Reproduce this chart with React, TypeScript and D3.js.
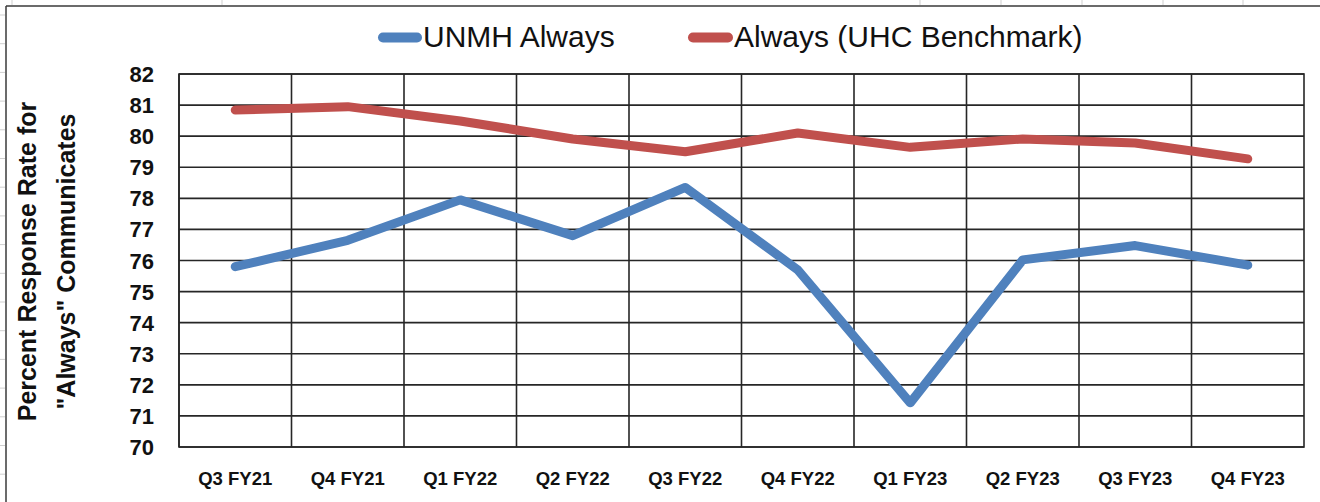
import React from 'react';
import * as d3 from 'd3';

const categories = ['Q3 FY21', 'Q4 FY21', 'Q1 FY22', 'Q2 FY22', 'Q3 FY22', 'Q4 FY22', 'Q1 FY23', 'Q2 FY23', 'Q3 FY23', 'Q4 FY23'];
const unmhAlways = [75.8, 76.65, 77.95, 76.8, 78.35, 75.7, 71.42, 76.02, 76.48, 75.85];
const benchmark = [80.84, 80.95, 80.49, 79.91, 79.5, 80.1, 79.64, 79.91, 79.78, 79.27];
const yTicks = [70, 71, 72, 73, 74, 75, 76, 77, 78, 79, 80, 81, 82];
const seriesNames = ['UNMH Always', 'Always (UHC Benchmark)'];
const seriesColors = ['#4F81BD', '#C0504D'];
const yTitleLines = ['Percent Response Rate for', '"Always" Communicates'];

const W = 1320;
const H = 502;
const plot = { left: 179, right: 1304, top: 74, bottom: 447 };
const FONT = '"Liberation Sans", Arial, sans-serif';

export default function App() {
  const x = d3.scaleBand<string>().domain(categories).range([plot.left, plot.right]).padding(0);
  const y = d3.scaleLinear().domain([70, 82]).range([plot.bottom, plot.top]);
  const cx = (c: string) => (x(c) as number) + x.bandwidth() / 2;

  const line = d3
    .line<number>()
    .x((_, i) => cx(categories[i]))
    .y((d) => y(d));

  const series = [unmhAlways, benchmark];

  // spreadsheet row guides (decorative)
  const rowGuides = d3.range(15, H, 28.7);
  const colGuides = [12, 222, 920, 1001, 1082, 1163, 1243];

  const legendItems = [
    { x0: 383, x1: 417, tx: 423 },
    { x0: 693, x1: 728, tx: 734 },
  ];

  return (
    <svg width={W} height={H} style={{ position: 'absolute', left: 0, top: 0, background: '#fff' }}>
      <rect x={0} y={0} width={W} height={H} fill="#fff" />
      {rowGuides.map((ry, i) => (
        <line key={'rg' + i} x1={0} x2={5} y1={ry} y2={ry} stroke="#cfcfcf" strokeWidth={1} />
      ))}
      {colGuides.map((gx, i) => (
        <line key={'cg' + i} x1={gx} x2={gx} y1={0} y2={5} stroke="#cfcfcf" strokeWidth={1} />
      ))}
      {/* chart frame */}
      <line x1={6} x2={W} y1={6} y2={6} stroke="#3a3a3a" strokeWidth={1.5} />
      <line x1={6} x2={6} y1={6} y2={H} stroke="#3a3a3a" strokeWidth={1.5} />

      {/* legend */}
      {legendItems.map((it, i) => (
        <g key={'lg' + i}>
          <line x1={it.x0} x2={it.x1} y1={37.5} y2={37.5} stroke={seriesColors[i]} strokeWidth={10} strokeLinecap="round" />
          <text x={it.tx} y={46.5} fontFamily={FONT} fontSize={30} fill="#111">
            {seriesNames[i]}
          </text>
        </g>
      ))}

      {/* horizontal gridlines */}
      {yTicks.map((t) => (
        <line key={'h' + t} x1={plot.left} x2={plot.right} y1={y(t)} y2={y(t)} stroke="#262626" strokeWidth={1.6} />
      ))}
      {/* vertical gridlines at category boundaries */}
      {categories.map((c) => (
        <line key={'v' + c} x1={x(c) as number} x2={x(c) as number} y1={plot.top} y2={plot.bottom} stroke="#262626" strokeWidth={1.6} />
      ))}
      <rect
        x={plot.left}
        y={plot.top}
        width={plot.right - plot.left}
        height={plot.bottom - plot.top}
        fill="none"
        stroke="#262626"
        strokeWidth={1.6}
      />

      {/* y tick labels */}
      {yTicks.map((t) => (
        <text
          key={'yt' + t}
          x={154}
          y={y(t) + 8}
          textAnchor="end"
          fontFamily={FONT}
          fontWeight="bold"
          fontSize={22}
          fill="#111"
        >
          {t}
        </text>
      ))}

      {/* x tick labels */}
      {categories.map((c) => (
        <text
          key={'xt' + c}
          x={cx(c)}
          y={484.5}
          textAnchor="middle"
          fontFamily={FONT}
          fontWeight="bold"
          fontSize={18.5}
          fill="#111"
        >
          {c}
        </text>
      ))}

      {/* y axis title */}
      {yTitleLines.map((t, i) => (
        <text
          key={'yl' + i}
          transform={`translate(${i === 0 ? 36 : 75},${(plot.top + plot.bottom) / 2 + 1}) rotate(-90)`}
          textAnchor="middle"
          fontFamily={FONT}
          fontWeight="bold"
          fontSize={25}
          fill="#111"
        >
          {t}
        </text>
      ))}

      {/* series lines */}
      {series.map((s, i) => (
        <path
          key={'s' + i}
          d={line(s) as string}
          fill="none"
          stroke={seriesColors[i]}
          strokeWidth={9}
          strokeLinecap="round"
          strokeLinejoin="round"
        />
      ))}
    </svg>
  );
}
